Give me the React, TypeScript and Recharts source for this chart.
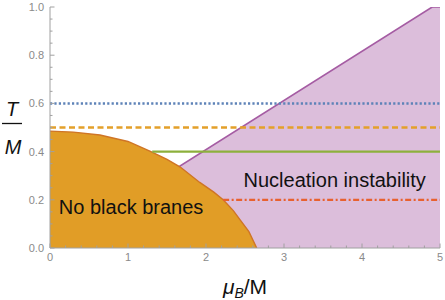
import {
  ComposedChart,
  Area,
  Line,
  XAxis,
  YAxis,
  ReferenceDot,
} from "recharts";

// region boundaries (x = mu_B/M, y = T/M)
const blackBraneEdge = [
  { x: 0, y: 0.485 },
  { x: 0.3, y: 0.481 },
  { x: 0.64, y: 0.469 },
  { x: 1.0, y: 0.442 },
  { x: 1.28, y: 0.402 },
  { x: 1.5, y: 0.368 },
  { x: 1.67, y: 0.336 },
  { x: 1.92, y: 0.272 },
  { x: 2.1, y: 0.232 },
  { x: 2.22, y: 0.2 },
  { x: 2.35, y: 0.155 },
  { x: 2.44, y: 0.116 },
  { x: 2.55, y: 0.068 },
  { x: 2.65, y: 0 },
];

const nucleationEdge = [
  { x: 0, y: 0 },
  { x: 4.9, y: 1.0 },
  { x: 5, y: 1.0 },
];

const blueLine = [
  { x: 0, y: 0.6 },
  { x: 5, y: 0.6 },
];
const orangeLine = [
  { x: 0, y: 0.5 },
  { x: 5, y: 0.5 },
];
const greenLine = [
  { x: 1.31, y: 0.4 },
  { x: 5, y: 0.4 },
];
const redLine = [
  { x: 2.22, y: 0.2 },
  { x: 5, y: 0.2 },
];

const xTicks = [
  0, 0.2, 0.4, 0.6, 0.8, 1, 1.2, 1.4, 1.6, 1.8, 2, 2.2, 2.4, 2.6, 2.8, 3, 3.2,
  3.4, 3.6, 3.8, 4, 4.2, 4.4, 4.6, 4.8, 5,
];
const yTicks = [
  0, 0.05, 0.1, 0.15, 0.2, 0.25, 0.3, 0.35, 0.4, 0.45, 0.5, 0.55, 0.6, 0.65,
  0.7, 0.75, 0.8, 0.85, 0.9, 0.95, 1,
];

const FONT = "'Liberation Sans', Arial, Helvetica, sans-serif";
const FRAME = "#a0a0a0";
const TICK_TEXT = "#8a8a8a";

const isMajorX = (v: number) => Math.abs(v - Math.round(v)) < 1e-6;
const isMajorY = (v: number) => Math.abs(v * 5 - Math.round(v * 5)) < 1e-6;

const BottomTick = (props: any) => {
  const { x, y, payload } = props;
  const major = isMajorX(payload.value);
  return (
    <g>
      <line x1={x} x2={x} y1={y} y2={y - (major ? 4.5 : 2.5)} stroke={FRAME} />
      {major && (
        <text x={x} y={y + 13} textAnchor="middle" fontSize={11} fill={TICK_TEXT} fontFamily={FONT}>
          {Math.round(payload.value)}
        </text>
      )}
    </g>
  );
};

const TopTick = (props: any) => {
  const { x, y, payload } = props;
  const major = isMajorX(payload.value);
  return <line x1={x} x2={x} y1={y} y2={y + (major ? 4.5 : 2.5)} stroke={FRAME} />;
};

const LeftTick = (props: any) => {
  const { x, y, payload } = props;
  const major = isMajorY(payload.value);
  return (
    <g>
      <line x1={x} x2={x + (major ? 4.5 : 2.5)} y1={y} y2={y} stroke={FRAME} />
      {major && (
        <text x={x - 6} y={y + 4} textAnchor="end" fontSize={11} fill={TICK_TEXT} fontFamily={FONT}>
          {payload.value.toFixed(1)}
        </text>
      )}
    </g>
  );
};

const RightTick = (props: any) => {
  const { x, y, payload } = props;
  const major = isMajorY(payload.value);
  return <line x1={x} x2={x - (major ? 4.5 : 2.5)} y1={y} y2={y} stroke={FRAME} />;
};

const XLabel = (props: any) => {
  const { x, y, width } = props.viewBox;
  return (
    <text x={x + width / 2} y={y + 46} textAnchor="middle" fontSize={21} fill="#111" fontFamily={FONT}>
      <tspan fontStyle="italic">μ</tspan>
      <tspan fontStyle="italic" fontSize={14} dy={4}>B</tspan>
      <tspan dy={-4}>/M</tspan>
    </text>
  );
};

const YLabel = (props: any) => {
  const { y, height } = props.viewBox;
  const cy = y + height / 2 - 4;
  return (
    <g fontFamily={FONT} fill="#111">
      <text x={12} y={cy - 8} textAnchor="middle" fontSize={20} fontStyle="italic">T</text>
      <line x1={2} x2={22} y1={cy} y2={cy} stroke="#111" strokeWidth={1.3} />
      <text x={13} y={cy + 30} textAnchor="middle" fontSize={20} fontStyle="italic">M</text>
    </g>
  );
};

const RegionLabel = (text: string) => (props: any) => {
  const { x, y, width, height } = props.viewBox;
  return (
    <text
      x={x + (width || 0) / 2}
      y={y + (height || 0) / 2 + 7}
      textAnchor="middle"
      fontSize={20}
      fill="#111"
      fontFamily={FONT}
    >
      {text}
    </text>
  );
};

export default function App() {
  return (
    <div style={{ position: "absolute", left: 0, top: 0 }}>
      <ComposedChart width={445} height={300} margin={{ top: 7, right: 5, left: 0, bottom: 0 }}>
        <XAxis
          xAxisId="b"
          type="number"
          dataKey="x"
          domain={[0, 5]}
          ticks={xTicks}
          interval={0}
          orientation="bottom"
          height={52}
          tickSize={0}
          tickMargin={0}
          tickLine={false}
          axisLine={{ stroke: FRAME }}
          tick={<BottomTick />}
          label={{ content: <XLabel /> }}
          allowDataOverflow
        />
        <XAxis
          xAxisId="t"
          type="number"
          dataKey="x"
          domain={[0, 5]}
          ticks={xTicks}
          interval={0}
          orientation="top"
          height={0}
          tickSize={0}
          tickMargin={0}
          tickLine={false}
          axisLine={{ stroke: FRAME }}
          tick={<TopTick />}
          allowDataOverflow
        />
        <YAxis
          yAxisId="l"
          type="number"
          dataKey="y"
          domain={[0, 1]}
          ticks={yTicks}
          interval={0}
          orientation="left"
          width={50}
          tickSize={0}
          tickMargin={0}
          tickLine={false}
          axisLine={{ stroke: FRAME }}
          tick={<LeftTick />}
          label={{ content: <YLabel /> }}
          allowDataOverflow
        />
        <YAxis
          yAxisId="r"
          type="number"
          dataKey="y"
          domain={[0, 1]}
          ticks={yTicks}
          interval={0}
          orientation="right"
          width={0}
          tickSize={0}
          tickMargin={0}
          tickLine={false}
          axisLine={{ stroke: FRAME }}
          tick={<RightTick />}
          allowDataOverflow
        />
        <Area
          xAxisId="b"
          yAxisId="l"
          data={nucleationEdge}
          dataKey="y"
          type="linear"
          stroke="#a55ca3"
          strokeWidth={1.6}
          fill="#dcbedb"
          fillOpacity={1}
          isAnimationActive={false}
        />
        <Area
          xAxisId="b"
          yAxisId="l"
          data={blackBraneEdge}
          dataKey="y"
          type="linear"
          stroke="#cf7526"
          strokeWidth={1.4}
          fill="#e19d26"
          fillOpacity={1}
          isAnimationActive={false}
        />
        <Line
          xAxisId="b"
          yAxisId="l"
          data={greenLine}
          dataKey="y"
          type="linear"
          stroke="#8db03c"
          strokeWidth={2.3}
          dot={false}
          isAnimationActive={false}
        />
        <Line
          xAxisId="b"
          yAxisId="l"
          data={redLine}
          dataKey="y"
          type="linear"
          stroke="#e8612f"
          strokeWidth={2.3}
          strokeDasharray="6 2.5 2 2.5"
          dot={false}
          isAnimationActive={false}
        />
        <Line
          xAxisId="b"
          yAxisId="l"
          data={orangeLine}
          dataKey="y"
          type="linear"
          stroke="#e3a02a"
          strokeWidth={2.3}
          strokeDasharray="6 3.5"
          dot={false}
          isAnimationActive={false}
        />
        <Line
          xAxisId="b"
          yAxisId="l"
          data={blueLine}
          dataKey="y"
          type="linear"
          stroke="#5e83b8"
          strokeWidth={2.5}
          strokeDasharray="2.2 2.2"
          dot={false}
          isAnimationActive={false}
        />
        <ReferenceDot
          xAxisId="b"
          yAxisId="l"
          x={1.04}
          y={0.172}
          r={0}
          stroke="none"
          label={{ content: RegionLabel("No black branes") }}
        />
        <ReferenceDot
          xAxisId="b"
          yAxisId="l"
          x={3.65}
          y={0.282}
          r={0}
          stroke="none"
          label={{ content: RegionLabel("Nucleation instability") }}
        />
      </ComposedChart>
    </div>
  );
}
